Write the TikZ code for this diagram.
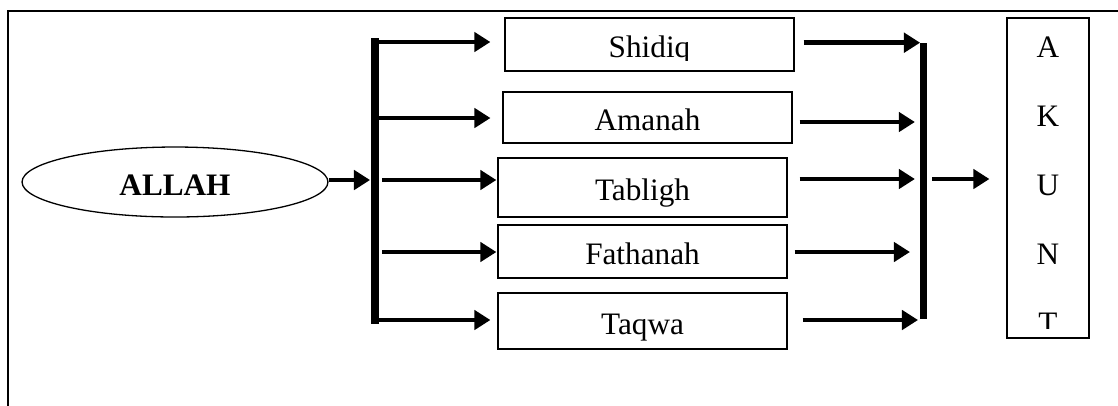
\documentclass[12pt,tikz,border=0pt]{standalone}
\usepackage{fontspec}
\setmainfont{Liberation Serif}
\usetikzlibrary{arrows.meta,shapes.geometric}
\tikzset{
  frame/.style={line width=0.6pt},
  box/.style={draw, line width=0.5pt, inner sep=0pt, minimum width=3.90cm,
    text height=10pt, text depth=0pt},
  txt/.style={inner sep=0pt, text height=10pt, text depth=0pt},
  arr/.style={line width=1.9pt, -{Triangle[length=6.2pt,width=7.4pt]}},
  bar/.style={line width=2.7pt, line cap=rect}
}
\begin{document}
\begin{tikzpicture}[x=0.0135cm,y=-0.0135cm]
\useasboundingbox (0,0) rectangle (1118,405);
\draw[frame] (8,11) rectangle (1140,430);

% source
\node[draw, ellipse, line width=0.5pt, inner sep=0pt, minimum width=4.131cm,
  minimum height=0.945cm, text height=10pt, text depth=0pt]
  (allah) at (175,182) {\textbf{ALLAH}};

% the five qualities
\node[box, minimum height=0.716cm] (shidiq) at (649.5,44.5) {};
\begin{scope}
\clip (shidiq.north west) rectangle ([yshift=4.2pt]shidiq.south east);
\node[txt] (shidiqtxt) at (shidiq) {Shidiq};
\end{scope}
\node[box, minimum height=0.689cm] (amanah) at (647.5,117.5) {Amanah};
\node[box, minimum height=0.797cm] (tabligh) at (642.5,187.5) {Tabligh};
\node[box, minimum height=0.716cm] (fathanah) at (642.5,251.5) {Fathanah};
\node[box, minimum height=0.756cm] (taqwa) at (642.5,321) {Taqwa};

% result
\node[box, minimum width=1.107cm, minimum height=4.32cm] (akunt) at (1048,178) {};
\begin{scope}
\clip (akunt.north west) rectangle ([yshift=3.8pt]akunt.south east);
\foreach \l [count=\i] in {A,K,U,N,T}
  \node[anchor=base, inner sep=0pt] (ak\i) at ([yshift={-15.4-26.5*(\i-1)}]akunt.north) {\l};
\end{scope}

% left bracket
\coordinate (l1) at (375,42);
\coordinate (l2) at (375,118);
\coordinate (l3) at (375,180);
\coordinate (l4) at (375,252);
\coordinate (l5) at (375,320);
\draw[bar] (l1) -- (l5);
\draw[arr, shorten >=1.9pt] (allah.east |- l3) -- (l3);
\draw[arr, shorten >=5.4pt] (l1) -- (shidiq.west |- l1);
\draw[arr, shorten >=4.6pt] (l2) -- (amanah.west |- l2);
\draw[arr, shorten <=2.7pt, shorten >=0.4pt] (l3) -- (tabligh.west |- l3);
\draw[arr, shorten <=2.7pt, shorten >=0.4pt] (l4) -- (fathanah.west |- l4);
\draw[arr, shorten >=2.7pt] (l5) -- (taqwa.west |- l5);

% right bracket
\coordinate (r1) at (923.5,42.7);
\coordinate (r2) at (923.5,122);
\coordinate (r3) at (923.5,179);
\coordinate (r4) at (923.5,252);
\coordinate (r5) at (923.5,320);
\draw[line width=2.7pt] (923.5,43) -- (923.5,319);
\draw[arr, shorten <=3.5pt, shorten >=1.3pt] (shidiq.east |- r1) -- (r1);
\draw[arr, shorten <=2.7pt, shorten >=3.3pt] (amanah.east |- r2) -- (r2);
\draw[arr, shorten <=4.6pt, shorten >=3.3pt] (tabligh.east |- r3) -- (r3);
\draw[arr, shorten <=2.7pt, shorten >=5.2pt] (fathanah.east |- r4) -- (r4);
\draw[arr, shorten <=5.8pt, shorten >=2.1pt] (taqwa.east |- r5) -- (r5);
\draw[arr, shorten <=3.3pt, shorten >=6.5pt] (r3) -- (akunt.west |- r3);

\end{tikzpicture}
\end{document}
